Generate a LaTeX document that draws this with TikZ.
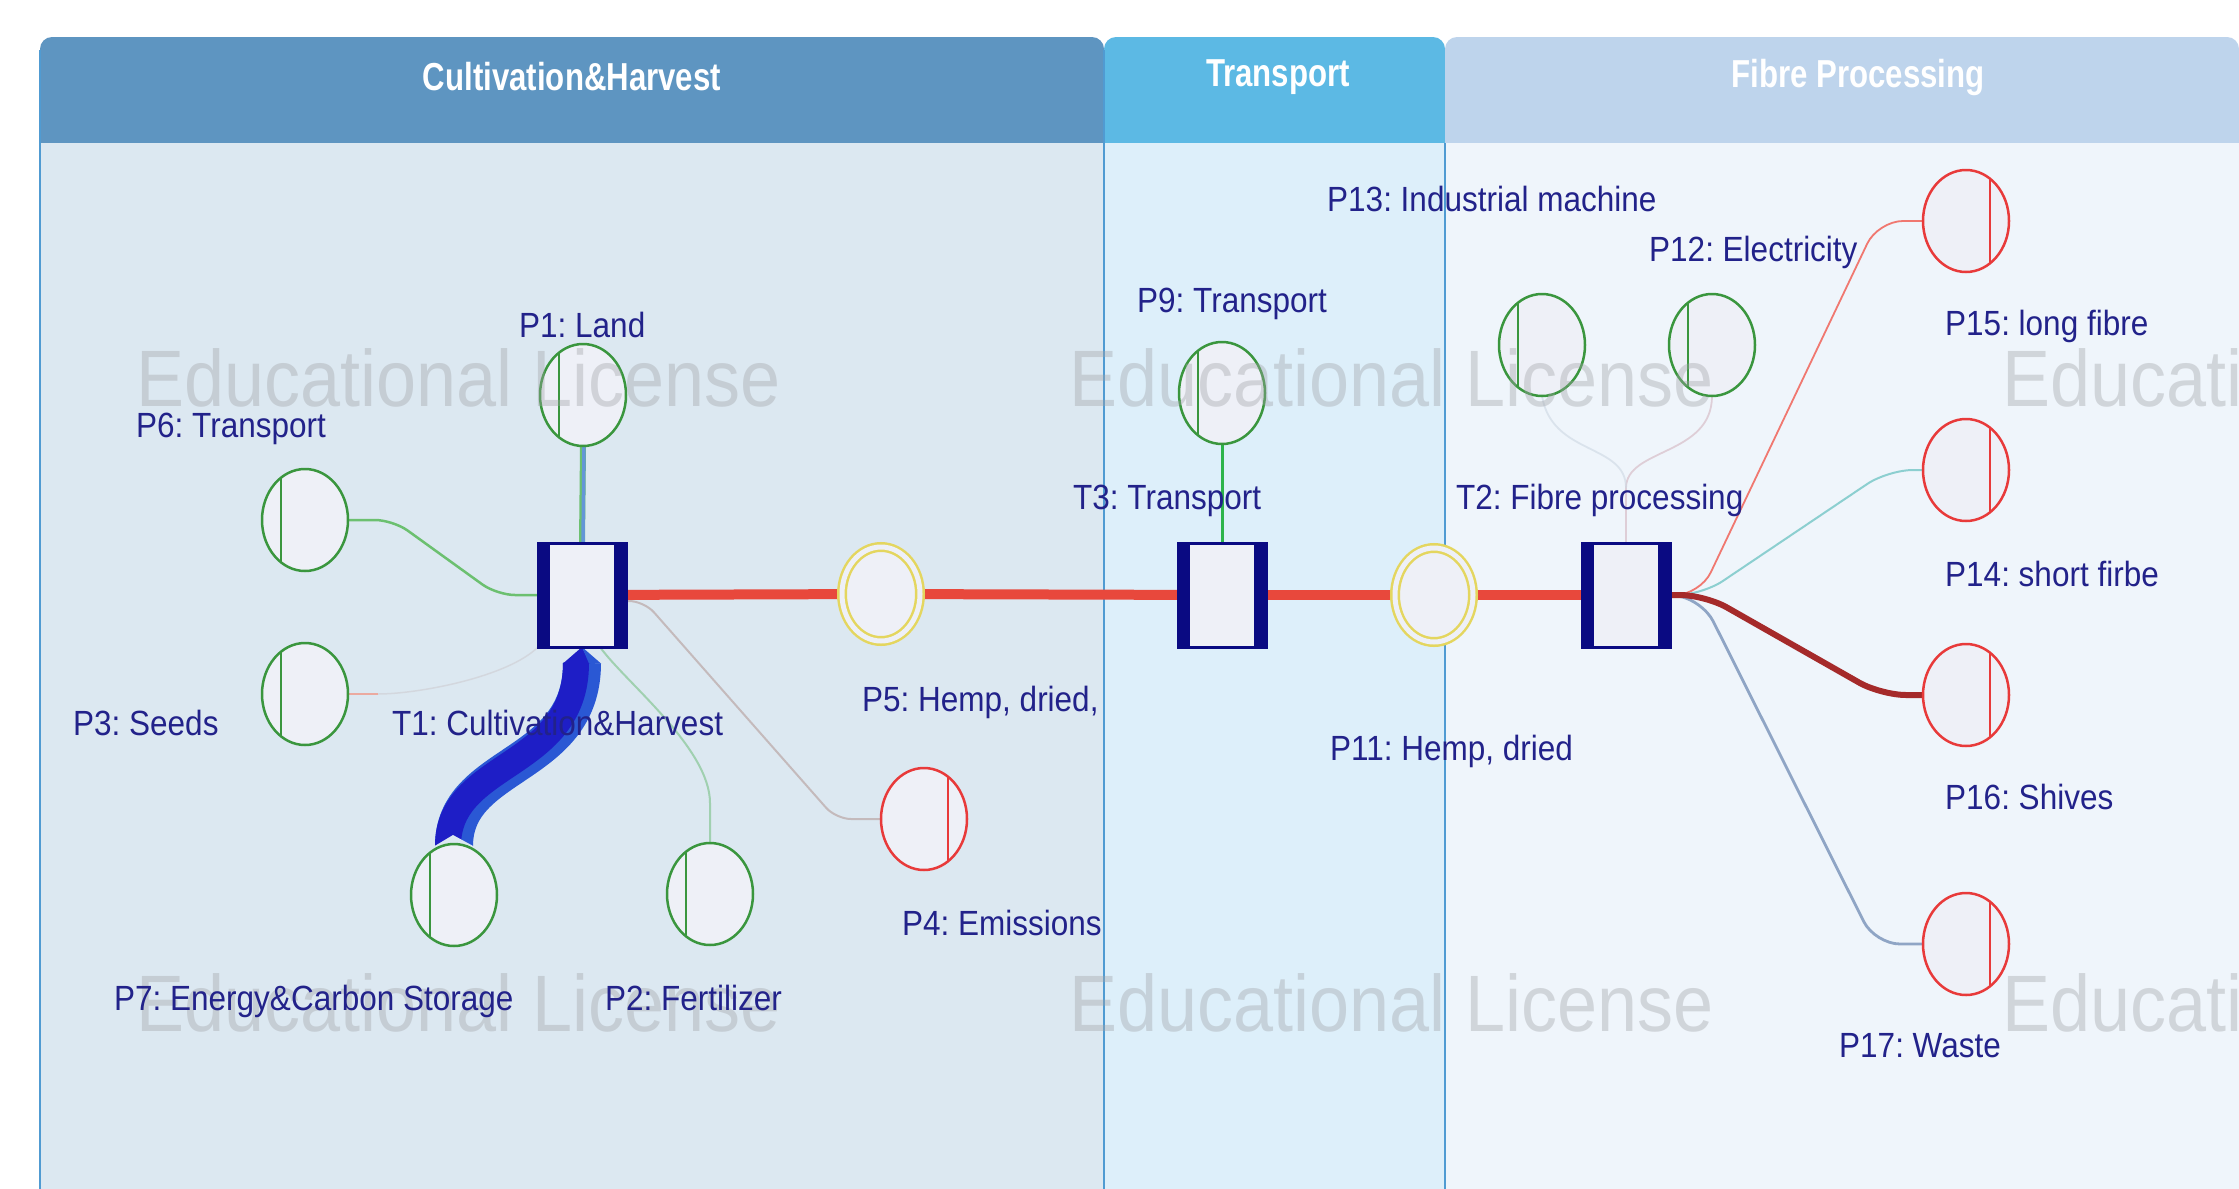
\documentclass[tikz,border=0pt]{standalone}
\usepackage{fontspec}
\setmainfont{Liberation Sans}
\newfontfamily\lblfont{Liberation Sans}[FakeStretch=0.9]
\newfontfamily\hdfont{Liberation Sans}[FakeStretch=0.8]
\newfontfamily\wmfont{Liberation Sans}[FakeStretch=0.9]
\usetikzlibrary{shapes.geometric}
\definecolor{laneA}{RGB}{220,232,241}
\definecolor{laneB}{RGB}{221,239,250}
\definecolor{laneC}{RGB}{239,245,251}
\definecolor{headA}{RGB}{94,149,193}
\definecolor{headB}{RGB}{92,185,228}
\definecolor{headC}{RGB}{190,212,236}
\definecolor{laneline}{RGB}{80,155,210}
\definecolor{placefill}{RGB}{238,240,247}
\definecolor{gring}{RGB}{58,150,62}
\definecolor{rring}{RGB}{232,58,58}
\definecolor{yring}{RGB}{228,214,95}
\definecolor{navy}{RGB}{10,10,130}
\definecolor{lblcol}{RGB}{34,34,138}
\definecolor{flowred}{RGB}{232,72,60}
\definecolor{ribdark}{RGB}{30,30,198}
\definecolor{riblight}{RGB}{42,88,212}
\definecolor{wmgray}{RGB}{160,162,166}
\definecolor{gthin}{RGB}{108,192,112}
\definecolor{faintg}{RGB}{160,208,176}
\definecolor{faintgray}{RGB}{196,186,188}
\definecolor{faintpink}{RGB}{216,190,200}
\definecolor{faintblue}{RGB}{205,215,226}
\definecolor{pinkish}{RGB}{235,170,160}
\definecolor{c15}{RGB}{240,120,112}
\definecolor{c14}{RGB}{140,207,208}
\definecolor{c16}{RGB}{165,42,42}
\definecolor{c17}{RGB}{143,165,197}
\definecolor{p1blue}{RGB}{100,150,215}
\definecolor{p9green}{RGB}{45,180,75}
\pgfdeclarelayer{lanes}
\pgfdeclarelayer{edges}
\pgfdeclarelayer{wm}
\pgfdeclarelayer{top}
\pgfsetlayers{lanes,edges,main,wm,top}
\tikzset{
  gpl/.style={ellipse, draw=gring, line width=2.5, fill=placefill, minimum width=86, minimum height=102, inner sep=0, outer sep=0},
  rpl/.style={ellipse, draw=rring, line width=2.5, fill=placefill, minimum width=86, minimum height=102, inner sep=0, outer sep=0},
  ypl/.style={ellipse, draw=yring, line width=2.5, double=placefill, double distance=5, fill=placefill, minimum width=78, minimum height=94, inner sep=0, outer sep=0},
  tbox/.style={rectangle, draw=navy, line width=3, fill=placefill, minimum width=88, minimum height=104, inner sep=0, outer sep=0},
  lbl/.style={font=\lblfont\frenchspacing\fontsize{35}{40}\selectfont, text=lblcol, inner sep=0, anchor=base west},
  hdtext/.style={font=\hdfont\bfseries\fontsize{39}{44}\selectfont, text=white, inner sep=0},
  wmtext/.style={font=\wmfont\fontsize{80}{90}\selectfont, text=wmgray, opacity=0.38, inner sep=0, anchor=base west},
  flow/.style={line width=10, color=flowred},
}
\newcommand\mkgplace[3]{\node[gpl] (#1) at (#2,#3) {};
  \draw[gring, line width=2.2] ([shift={(-24,-42)}]#1.center) -- ([shift={(-24,42)}]#1.center);}
\newcommand\mkrplace[3]{\node[rpl] (#1) at (#2,#3) {};
  \draw[rring, line width=2.2] ([shift={(24,-42)}]#1.center) -- ([shift={(24,42)}]#1.center);}
\newcommand\mktbox[3]{\node[tbox] (#1) at (#2,#3) {};
  \fill[navy] (#1.north west) rectangle ([xshift=12pt]#1.south west);
  \fill[navy] ([xshift=-12pt]#1.north east) rectangle (#1.south east);}
\begin{document}
\begin{tikzpicture}[x=1pt,y=-1pt]
\useasboundingbox (0,0) rectangle (2239,1189);
% ---------- lanes ----------
\begin{pgfonlayer}{lanes}
\fill[white] (0,0) rectangle (2239,1189);
\fill[headA] (40,143) [rounded corners=12] -- (40,37) -- (1104,37) [sharp corners] -- (1104,143) -- cycle;
\fill[laneA] (40,143) rectangle (1104,1189);
\fill[headB] (1104,143) [rounded corners=12] -- (1104,37) -- (1445,37) [sharp corners] -- (1445,143) -- cycle;
\fill[laneB] (1104,143) rectangle (1445,1189);
\fill[headC] (1445,143) [rounded corners=12] -- (1445,37) -- (2239,37) [sharp corners] -- (2239,143) -- cycle;
\fill[laneC] (1445,143) rectangle (2239,1189);
\draw[laneline, line width=2.5] (40,50) -- (40,1189);
\draw[laneline, line width=2.5] (1104,50) -- (1104,1189);
\draw[laneline, line width=2.5] (1445,143) -- (1445,1189);
\node[hdtext] (hA) at (572,77) {Cultivation\&Harvest};
\node[hdtext] (hB) at (1278,77) {Transport};
\node[hdtext] (hC) at (1858,77) {Fibre Processing};
\end{pgfonlayer}
% ---------- nodes ----------
\mkgplace{P1}{583}{395}
\mkgplace{P6}{305}{520}
\mkgplace{P3}{305}{694}
\mkgplace{P7}{454}{895}
\mkgplace{P2}{710}{894}
\node[ypl] (P5) at (881,594) {};
\mkrplace{P4}{924}{819}
\mktbox{T1}{582}{595}
\mktbox{T3}{1222}{595}
\mkgplace{P9}{1222}{393}
\node[ypl] (P11) at (1434,595) {};
\mktbox{T2}{1626}{595}
\mkgplace{P13}{1542}{345}
\mkgplace{P12}{1712}{345}
\mkrplace{P15}{1966}{221}
\mkrplace{P14}{1966}{470}
\mkrplace{P16}{1966}{695}
\mkrplace{P17}{1966}{944}
% ---------- edges ----------
\begin{pgfonlayer}{edges}
\draw[flow] (T1) -- (P5);
\draw[flow] (P5) -- (T3);
\draw[flow] (T3) -- (P11);
\draw[flow] (P11) -- (T2);
\draw[line width=6, color=gthin] (P1.south) -- (T1.north);
\draw[line width=3.5, color=p1blue] ([xshift=1pt]P1.south) -- ([xshift=1pt]T1.north);
\draw[line width=2.5, color=gthin, rounded corners=18] (P6.east) -- ([xshift=45pt]P6.east) -- ([xshift=-41pt]T1.west) -- (T1.west);
\draw[line width=2, color=pinkish] (P3.east) -- ([xshift=30pt]P3.east);
\draw[line width=1.5, color=faintgray, opacity=0.35] ([xshift=30pt]P3.east) .. controls +(40,0) and +(-30,30) .. (T1.south west);
\draw[line width=2, color=faintg] (P2.north) -- ++(0,-40) .. controls +(0,-55) and +(25,35) .. ([xshift=18pt]T1.south);
\draw[line width=2, color=faintgray, rounded corners=15] ([yshift=-6pt]T1.east) -- ++(18,0) -- ([xshift=-45pt]P4.west) -- (P4.west);
% ribbon P7 -> T1
\draw[line width=38, color=riblight] ([yshift=-2pt]P7.north) .. controls +(0,-86) and +(0,107) .. ([yshift=-16pt]T1.south);
\draw[line width=26, color=ribdark] ([shift={(-6,2)}]P7.north) .. controls +(0,-86) and +(0,107) .. ([shift={(-6,16)}]T1.south);
\fill[ribdark] ([shift={(-19,16.5)}]T1.south) -- (T1.south) -- ([shift={(8,16.5)}]T1.south) -- cycle;
\fill[riblight] ([shift={(7,16.5)}]T1.south) -- (T1.south) -- ([shift={(19,16.5)}]T1.south) -- cycle;
\fill[laneA] ([shift={(-21,3)}]P7.north) -- ([shift={(-1,-9)}]P7.north) -- ([shift={(21,3)}]P7.north) -- cycle;
\draw[line width=3, color=p9green] (P9) -- (T3);
\draw[line width=1.8, color=faintpink, opacity=0.7] (P12.south) .. controls +(0,60) and +(0,-40) .. ([yshift=55pt]T2.north) -- (T2.north);
\draw[line width=1.8, color=faintblue, opacity=0.6] (P13.south) .. controls +(10,60) and +(0,-45) .. ([yshift=55pt]T2.north);
\draw[line width=1.8, color=c15, rounded corners=25] (T2.east) -- ++(30,0) -- ([xshift=-45pt]P15.west) -- (P15.west);
\draw[line width=2, color=c14, rounded corners=25] (T2.east) -- ++(32,0) -- ([xshift=-35pt]P14.west) -- (P14.west);
\draw[line width=2.8, color=c17, rounded corners=25] (T2.east) -- ++(32,4) -- ([xshift=-48pt]P17.west) -- (P17.west);
\draw[line width=6, color=c16, rounded corners=25] (T2.east) -- ++(35,0) -- ([xshift=-42pt]P16.west) -- (P16.west);
\end{pgfonlayer}
% ---------- watermark ----------
\begin{pgfonlayer}{wm}
\node[wmtext] (wm1) at (136,406) {Educational License};
\node[wmtext] (wm2) at (1069,406) {Educational License};
\node[wmtext] (wm3) at (2002,406) {Educati};
\node[wmtext] (wm4) at (136,1031) {Educational License};
\node[wmtext] (wm5) at (1069,1031) {Educational License};
\node[wmtext] (wm6) at (2002,1031) {Educati};
\end{pgfonlayer}
% ---------- labels ----------
\begin{pgfonlayer}{top}
\node[lbl] (lP1) at (519,337) {P1: Land};
\node[lbl] (lP6) at (136,437) {P6: Transport};
\node[lbl] (lP3) at (73,735) {P3: Seeds};
\node[lbl] (lT1) at (392,735) {T1: Cultivation\&Harvest};
\node[lbl] (lP7) at (114,1010) {P7: Energy\&Carbon Storage};
\node[lbl] (lP2) at (605,1010) {P2: Fertilizer};
\node[lbl] (lP5) at (862,711) {P5: Hemp, dried,};
\node[lbl] (lP4) at (902,935) {P4: Emissions};
\node[lbl] (lP9) at (1137,312) {P9: Transport};
\node[lbl] (lT3) at (1073,509) {T3: Transport};
\node[lbl] (lP11) at (1330,760) {P11: Hemp, dried};
\node[lbl] (lT2) at (1456,509) {T2: Fibre processing};
\node[lbl] (lP13) at (1327,211) {P13: Industrial machine};
\node[lbl] (lP12) at (1649,261) {P12: Electricity};
\node[lbl] (lP15) at (1945,335) {P15: long fibre};
\node[lbl] (lP14) at (1945,586) {P14: short firbe};
\node[lbl] (lP16) at (1945,809) {P16: Shives};
\node[lbl] (lP17) at (1839,1057) {P17: Waste};
\end{pgfonlayer}
\end{tikzpicture}
\end{document}
